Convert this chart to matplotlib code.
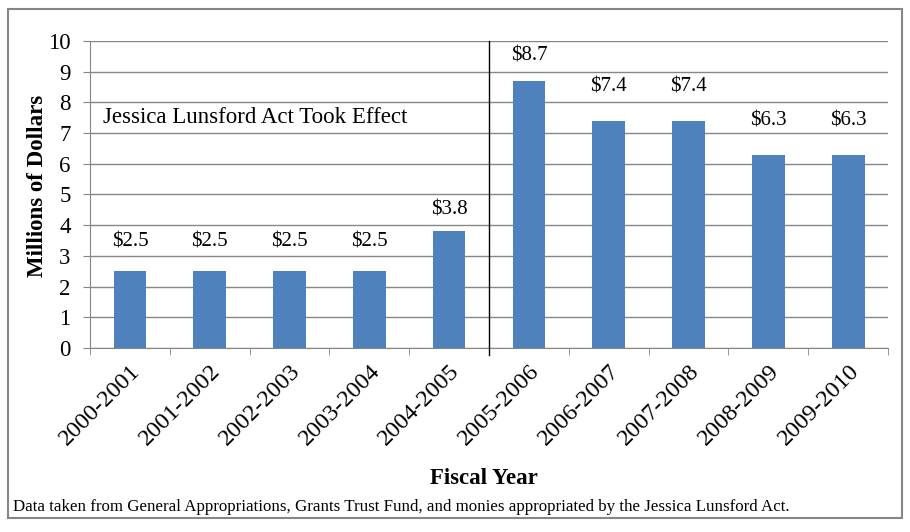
import matplotlib
matplotlib.use("Agg")
import matplotlib.pyplot as plt
from matplotlib.patches import Rectangle

years = ["2000-2001", "2001-2002", "2002-2003", "2003-2004", "2004-2005",
         "2005-2006", "2006-2007", "2007-2008", "2008-2009", "2009-2010"]
funding = [2.5, 2.5, 2.5, 2.5, 3.8, 8.7, 7.4, 7.4, 6.3, 6.3]
labels = ["$2.5", "$2.5", "$2.5", "$2.5", "$3.8", "$8.7", "$7.4", "$7.4", "$6.3", "$6.3"]

# gap (points) between bar top and label centre, as placed in the original
label_gap = [21, 21, 21, 21, 15.5, 18, 24.5, 24.5, 24, 24]

plt.rcParams["font.family"] = ["Liberation Serif", "DejaVu Serif"]

fig = plt.figure(figsize=(9.1, 5.32), dpi=100)
ax = fig.add_axes([0.0989, 0.3459, 0.877, 0.577])

x = range(len(years))
ax.bar(x, funding, width=0.41, color="#4F81BD", zorder=3)

for i, (v, lab) in enumerate(zip(funding, labels)):
    ax.annotate(lab, (i, v), xytext=(0, label_gap[i]), textcoords="offset points",
                ha="center", va="center", fontsize=15)

ax.set_xlim(-0.5, len(years) - 0.5)
ax.set_ylim(0, 10)
ax.set_yticks(range(0, 11))
ax.yaxis.grid(True, color="#868686", linewidth=1, zorder=0)

ax.set_xticks(list(x))
ax.set_xticklabels(years, rotation=45, ha="right", rotation_mode="anchor", fontsize=17.5)
ax.set_xticks([i - 0.5 for i in range(len(years) + 1)], minor=True)
ax.tick_params(axis="x", which="major", length=0, pad=9)
ax.tick_params(axis="x", which="minor", length=5, color="#868686")
ax.tick_params(axis="y", length=5, color="#868686", labelsize=16.5, pad=9)

for side in ["top", "right"]:
    ax.spines[side].set_visible(False)
for side in ["left", "bottom"]:
    ax.spines[side].set_color("#868686")

# act took effect marker
ax.plot([4.5, 4.5], [-0.23, 10], color="black", linewidth=1, clip_on=False, zorder=4)
ax.text(-0.34, 7.5, "Jessica Lunsford Act Took Effect", fontsize=16.5, va="center")

ax.set_ylabel("Millions of Dollars", fontsize=16.5, fontweight="bold")
ax.yaxis.set_label_coords(-0.053, 0.528)
fig.text(0.532, 0.101, "Fiscal Year", fontsize=16.5, fontweight="bold", ha="center", va="center")
fig.text(0.014, 0.047, "Data taken from General Appropriations, Grants Trust Fund, "
         "and monies appropriated by the Jessica Lunsford Act.", fontsize=12.2, va="center")

fig.patches.append(Rectangle((0.009, 0.026), 0.982, 0.958, transform=fig.transFigure,
                             fill=False, edgecolor="#868686", linewidth=1.5))

fig.savefig("out.png", dpi=100)
